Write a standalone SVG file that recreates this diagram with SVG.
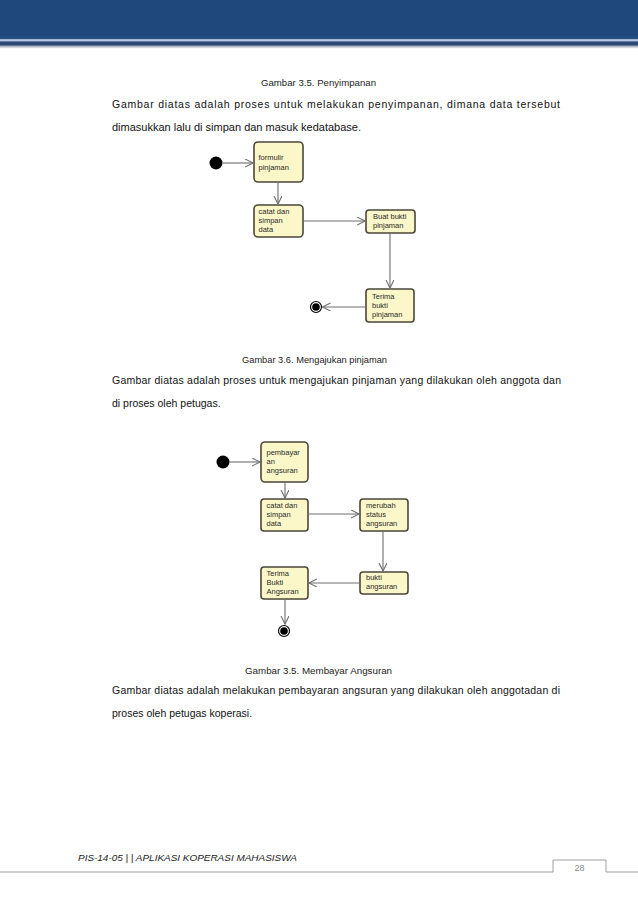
<svg xmlns="http://www.w3.org/2000/svg" width="638" height="903" viewBox="0 0 638 903">
<defs>
<style>
.node rect{fill:#fcf7c8;stroke:#4a473a;stroke-width:1.6}
.nt{font-family:"Liberation Sans",Arial,sans-serif;font-size:7.5px;fill:#2a2a2a}
.cap{font-family:"Liberation Sans",Arial,sans-serif;font-size:8.5px;fill:#222}
.para{font-family:"Liberation Sans",Arial,sans-serif;font-size:10.5px;fill:#111}
.edge{stroke:#6e6e6e;stroke-width:1.1;fill:none;marker-end:url(#arr)}
</style>
<marker id="arr" markerWidth="10" markerHeight="10" refX="8" refY="4" orient="auto" markerUnits="userSpaceOnUse">
<path d="M0,0 L8,4 L0,8" fill="none" stroke="#6e6e6e" stroke-width="1.1"/>
</marker>
<linearGradient id="shadow" x1="0" y1="0" x2="0" y2="1">
<stop offset="0" stop-color="#9aa3b3"/>
<stop offset="1" stop-color="#ffffff"/>
</linearGradient>
</defs>
<rect width="638" height="903" fill="#ffffff"/>
<!-- header -->
<g id="header">
<rect x="0" y="0" width="638" height="37" fill="#1f497d"/>
<rect x="0" y="37" width="638" height="2.5" fill="#2a4f80"/>
<rect x="0" y="39.5" width="638" height="1.8" fill="#b9c8e4"/>
<rect x="0" y="41.3" width="638" height="4.5" fill="#2b4a78"/>
<rect x="0" y="45.8" width="638" height="3" fill="url(#shadow)"/>
</g>
<!-- texts section 1 -->
<text class="cap" x="261" y="86" textLength="115" lengthAdjust="spacingAndGlyphs">Gambar 3.5. Penyimpanan</text>
<text class="para" x="112" y="108" textLength="448" lengthAdjust="spacing">Gambar diatas adalah proses untuk melakukan penyimpanan, dimana data tersebut</text>
<text class="para" x="112" y="131" textLength="249" lengthAdjust="spacingAndGlyphs">dimasukkan lalu di simpan dan masuk kedatabase.</text>
<!-- diagram 1 -->
<g id="d1-start"><circle cx="216" cy="163" r="6.5" fill="#000"/></g>
<g id="d1-formulir" class="node"><rect x="254" y="142" width="49" height="40" rx="4"/>
<text class="nt" x="258.5" y="160">formulir</text><text class="nt" x="258.5" y="170">pinjaman</text></g>
<g id="d1-catat" class="node"><rect x="254" y="205" width="49" height="32" rx="4"/>
<text class="nt" x="258.5" y="214">catat dan</text><text class="nt" x="258.5" y="223">simpan</text><text class="nt" x="258.5" y="232">data</text></g>
<g id="d1-buat" class="node"><rect x="366" y="210" width="49" height="23" rx="3"/>
<text class="nt" x="373" y="218.5">Buat bukti</text><text class="nt" x="373" y="228">pinjaman</text></g>
<g id="d1-terima" class="node"><rect x="366" y="289" width="48" height="33" rx="3"/>
<text class="nt" x="372" y="299">Terima</text><text class="nt" x="372" y="308">bukti</text><text class="nt" x="372" y="317">pinjaman</text></g>
<g id="d1-end"><circle cx="316" cy="307" r="5.5" fill="#fff" stroke="#000" stroke-width="1.2"/><circle cx="316" cy="307" r="3.8" fill="#000"/></g>
<g id="d1-edges">
<path class="edge" d="M222.5,163 H253"/>
<path class="edge" d="M278,182 V204"/>
<path class="edge" d="M303,221 H365"/>
<path class="edge" d="M390,233 V288"/>
<path class="edge" d="M366,307 H322.5"/>
</g>
<!-- section 2 -->
<text class="cap" x="242" y="363" textLength="145" lengthAdjust="spacingAndGlyphs">Gambar 3.6. Mengajukan pinjaman</text>
<text class="para" x="112" y="384" textLength="449" lengthAdjust="spacing">Gambar diatas adalah proses untuk mengajukan pinjaman yang dilakukan oleh anggota dan</text>
<text class="para" x="112" y="407">di proses oleh petugas.</text>
<!-- diagram 2 -->
<g id="d2-start"><circle cx="223" cy="462" r="6.5" fill="#000"/></g>
<g id="d2-pembayaran" class="node"><rect x="261" y="442" width="47" height="40" rx="4"/>
<text class="nt" x="266.5" y="455">pembayar</text><text class="nt" x="266.5" y="464">an</text><text class="nt" x="266.5" y="473">angsuran</text></g>
<g id="d2-catat" class="node"><rect x="261" y="499" width="47" height="32" rx="3"/>
<text class="nt" x="266.5" y="508">catat dan</text><text class="nt" x="266.5" y="517">simpan</text><text class="nt" x="266.5" y="526">data</text></g>
<g id="d2-merubah" class="node"><rect x="360" y="499" width="48" height="32" rx="3"/>
<text class="nt" x="366" y="508">merubah</text><text class="nt" x="366" y="517">status</text><text class="nt" x="366" y="526">angsuran</text></g>
<g id="d2-bukti" class="node"><rect x="360" y="572" width="48" height="22" rx="3"/>
<text class="nt" x="366" y="580">bukti</text><text class="nt" x="366" y="589">angsuran</text></g>
<g id="d2-terima" class="node"><rect x="261" y="567" width="47" height="32" rx="3"/>
<text class="nt" x="266.5" y="576">Terima</text><text class="nt" x="266.5" y="585">Bukti</text><text class="nt" x="266.5" y="594">Angsuran</text></g>
<g id="d2-end"><circle cx="284" cy="631" r="5.5" fill="#fff" stroke="#000" stroke-width="1.2"/><circle cx="284" cy="631" r="3.8" fill="#000"/></g>
<g id="d2-edges">
<path class="edge" d="M229.5,462 H260"/>
<path class="edge" d="M285,482 V498"/>
<path class="edge" d="M308,514 H359"/>
<path class="edge" d="M383,531 V571"/>
<path class="edge" d="M360,583 H309"/>
<path class="edge" d="M285,599 V624"/>
</g>
<!-- section 3 -->
<text class="cap" x="245" y="674" textLength="147" lengthAdjust="spacingAndGlyphs">Gambar 3.5. Membayar Angsuran</text>
<text class="para" x="112" y="694" textLength="448" lengthAdjust="spacing">Gambar diatas adalah melakukan pembayaran angsuran yang dilakukan oleh anggotadan di</text>
<text class="para" x="112" y="717">proses oleh petugas koperasi.</text>
<!-- footer -->
<g id="footer">
<text x="78" y="861" font-family="'Liberation Sans',Arial,sans-serif" font-size="9.5" font-style="italic" fill="#222" textLength="219" lengthAdjust="spacingAndGlyphs">PIS-14-05 | | APLIKASI KOPERASI MAHASISWA</text>
<path d="M0,872 H553 V860 H606 V872 H638" fill="none" stroke="#a0a0a0" stroke-width="1"/>
<text x="579.5" y="871" text-anchor="middle" font-family="'Liberation Sans',Arial,sans-serif" font-size="9" fill="#888">28</text>
</g>
</svg>
